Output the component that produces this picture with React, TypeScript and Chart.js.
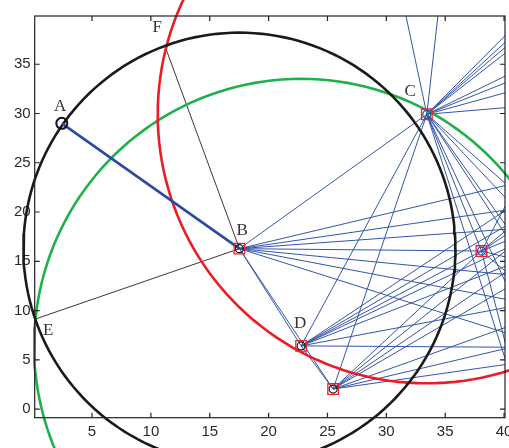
import React, { useEffect, useRef } from "react";
import { Chart, registerables } from "chart.js";

Chart.register(...registerables);

// Axis ranges and ticks
const xRange = [0.13, 40.08];
const yRange = [-0.88, 39.9];
const xTicks = [5, 10, 15, 20, 25, 30, 35, 40];
const yTicks = [0, 5, 10, 15, 20, 25, 30, 35];

// Network nodes (data coordinates); nodes beyond the axes are off-chart ends of rays
const nodeNames = [
  "A", "B", "C", "D", "G", "H", "E", "F",
  "U1", "U2", "U3", "U4", "U5", "U6", "U7", "U8", "T1", "T2",
  "F1", "F2", "F3", "F4", "F5", "F6", "F7", "F8", "F9", "F10", "F11", "F13",
];
const nodeX = [
  2.43, 17.52, 33.44, 22.76, 25.48, 38.08, 0.1, 11.27,
  48, 48, 48, 48, 48, 48, 48, 48, 30.5, 35.0,
  50, 50, 50, 50, 50, 50, 42, 44, 46, 50, 50, 45,
];
const nodeY = [
  29.0, 16.28, 29.92, 6.41, 2.03, 16.04, 9.1, 36.6,
  47.4, 45.9, 44.8, 43.5, 38.4, 36.9, 34.7, 31.4, 46.5, 46.5,
  25.5, 21.9, 19.1, 12.5, 8.9, 4.0, -2, 3, 7, 28, 6.2, 10.5,
];

// Thin blue edges
const blueEdges: [string, string][] = [
  ["B", "C"], ["B", "D"], ["B", "G"], ["B", "H"],
  ["B", "F1"], ["B", "F2"], ["B", "F3"], ["B", "F4"], ["B", "F5"], ["B", "F6"],
  ["C", "D"], ["C", "G"], ["C", "H"],
  ["C", "U1"], ["C", "U2"], ["C", "U3"], ["C", "U4"], ["C", "U5"], ["C", "U6"], ["C", "U7"], ["C", "U8"],
  ["C", "T1"], ["C", "T2"], ["C", "F7"], ["C", "F8"], ["C", "F9"], ["C", "F4"], ["C", "F5"], ["C", "F13"],
  ["D", "G"], ["D", "H"], ["D", "F11"], ["D", "F1"], ["D", "F2"], ["D", "F3"], ["D", "F10"], ["D", "F4"],
  ["G", "H"], ["G", "F2"], ["G", "F3"], ["G", "F4"], ["G", "F5"], ["G", "F11"], ["G", "F1"],
  ["H", "F10"], ["H", "F1"], ["H", "F2"], ["H", "F4"], ["H", "F6"], ["H", "U5"], ["H", "F7"],
];
// Thin black edges and thick blue edge
const blackEdges: [string, string][] = [["B", "F"], ["B", "E"]];
const thickEdges: [string, string][] = [["A", "B"]];

// Circles: centre and radii (data units on x and y)
const circleCx = [17.52, 33.44, 22.76];
const circleCy = [16.28, 29.92, 6.41];
const circleRx = [18.35, 22.86, 22.68];
const circleRy = [21.93, 27.31, 27.11];
const circleColors = ["#1a1a1a", "#ec1c24", "#1fb04b"];

// Markers
const squareNodes = ["B", "C", "D", "G", "H"];
const ringNodes = ["B", "D", "G"];
const blueRingNodes = ["C", "H"];

// Text labels
const labelText = ["A", "B", "C", "D", "E", "F"];
const labelX = [2.29, 17.75, 32.03, 22.68, 1.27, 10.53];
const labelY = [30.66, 18.17, 32.24, 8.73, 8.02, 38.68];

const pt = (name: string) => {
  const i = nodeNames.indexOf(name);
  return { x: nodeX[i], y: nodeY[i] };
};

const edgeData = (edges: [string, string][]) => {
  const out: { x: number; y: number }[] = [];
  edges.forEach(([a, b]) => {
    out.push(pt(a), pt(b), { x: NaN, y: NaN });
  });
  return out;
};

const circleData = (k: number) => {
  const out: { x: number; y: number }[] = [];
  for (let d = 0; d <= 360; d += 2) {
    const t = (d * Math.PI) / 180;
    out.push({ x: circleCx[k] + circleRx[k] * Math.cos(t), y: circleCy[k] + circleRy[k] * Math.sin(t) });
  }
  return out;
};

const overlay = {
  id: "overlay",
  afterDatasetsDraw(chart: any) {
    const { ctx, chartArea: a, scales } = chart;
    const xs = scales.x;
    const ys = scales.y;
    ctx.save();
    ctx.strokeStyle = "#222";
    ctx.lineWidth = 1.2;
    ctx.strokeRect(a.left, a.top, a.right - a.left, a.bottom - a.top);
    ctx.beginPath();
    const tl = 5;
    xTicks.forEach((v) => {
      const px = xs.getPixelForValue(v);
      ctx.moveTo(px, a.bottom);
      ctx.lineTo(px, a.bottom - tl);
      ctx.moveTo(px, a.top);
      ctx.lineTo(px, a.top + tl);
    });
    yTicks.forEach((v) => {
      const py = ys.getPixelForValue(v);
      ctx.moveTo(a.left, py);
      ctx.lineTo(a.left + tl, py);
      ctx.moveTo(a.right, py);
      ctx.lineTo(a.right - tl, py);
    });
    ctx.stroke();
    ctx.font = '17px "Liberation Serif"';
    ctx.fillStyle = "#333";
    ctx.textAlign = "center";
    ctx.textBaseline = "middle";
    labelText.forEach((t, i) => {
      ctx.fillText(t, xs.getPixelForValue(labelX[i]), ys.getPixelForValue(labelY[i]));
    });
    ctx.restore();
  },
};

export default function App() {
  const ref = useRef<HTMLCanvasElement | null>(null);
  useEffect(() => {
    if (!ref.current) return;
    const datasets: any[] = [];
    datasets.push({
      data: squareNodes.map(pt),
      showLine: false,
      pointStyle: "rect",
      pointRadius: 7.5,
      pointBorderColor: "#e8242b",
      pointBorderWidth: 1.3,
      pointBackgroundColor: "rgba(0,0,0,0)",
      order: 0,
    });
    datasets.push({
      data: ringNodes.map(pt),
      showLine: false,
      pointStyle: "circle",
      pointRadius: 4,
      pointBorderColor: "#111",
      pointBorderWidth: 1.2,
      pointBackgroundColor: "rgba(0,0,0,0)",
      order: 1,
    });
    datasets.push({
      data: blueRingNodes.map(pt),
      showLine: false,
      pointStyle: "circle",
      pointRadius: 4,
      pointBorderColor: "#2a4b9b",
      pointBorderWidth: 1.2,
      pointBackgroundColor: "rgba(0,0,0,0)",
      order: 2,
    });
    datasets.push({
      data: [pt("A")],
      showLine: false,
      pointStyle: "circle",
      pointRadius: 5.5,
      pointBorderColor: "#111",
      pointBorderWidth: 2,
      pointBackgroundColor: "rgba(0,0,0,0)",
      order: 3,
    });
    datasets.push({
      data: edgeData(thickEdges),
      showLine: true,
      borderColor: "#2a4b9b",
      borderWidth: 2.6,
      pointRadius: 0,
      spanGaps: false,
      order: 4,
    });
    circleCx.forEach((_, k) => {
      datasets.push({
        data: circleData(k),
        showLine: true,
        borderColor: circleColors[k],
        borderWidth: 2.6,
        pointRadius: 0,
        clip: false,
        order: 5 + k,
      });
    });
    datasets.push({
      data: edgeData(blackEdges),
      showLine: true,
      borderColor: "#222",
      borderWidth: 0.9,
      pointRadius: 0,
      spanGaps: false,
      order: 10,
    });
    datasets.push({
      data: edgeData(blueEdges),
      showLine: true,
      borderColor: "#3456a8",
      borderWidth: 1,
      pointRadius: 0,
      spanGaps: false,
      order: 11,
    });

    const chart = new Chart(ref.current, {
      type: "scatter",
      data: { datasets },
      options: {
        animation: false,
        responsive: false,
        events: [],
        layout: { autoPadding: false, padding: { top: 16, right: 4, left: 0, bottom: 0 } },
        plugins: { legend: { display: false }, tooltip: { enabled: false } },
        scales: {
          x: {
            type: "linear",
            min: xRange[0],
            max: xRange[1],
            grid: { display: false, drawTicks: false },
            border: { display: false },
            ticks: {
              font: { family: "Liberation Sans", size: 15 },
              color: "#2a2a2a",
              padding: 5,
              maxRotation: 0,
              autoSkip: false,
            },
            afterBuildTicks: (s: any) => {
              s.ticks = xTicks.map((v) => ({ value: v }));
            },
            afterFit: (s: any) => {
              s.height = 448 - 417.7;
              s.paddingLeft = 0;
              s.paddingRight = 0;
            },
          },
          y: {
            type: "linear",
            min: yRange[0],
            max: yRange[1],
            grid: { display: false, drawTicks: false },
            border: { display: false },
            ticks: {
              font: { family: "Liberation Sans", size: 15 },
              color: "#2a2a2a",
              padding: 4,
              autoSkip: false,
            },
            afterBuildTicks: (s: any) => {
              s.ticks = yTicks.map((v) => ({ value: v }));
            },
            afterFit: (s: any) => {
              s.width = 34.7;
              s.paddingTop = 0;
              s.paddingBottom = 0;
            },
          },
        },
      },
      plugins: [overlay],
    } as any);
    return () => chart.destroy();
  }, []);

  return (
    <div style={{ position: "fixed", left: 0, top: 0, width: 509, height: 448, background: "#fff" }}>
      <canvas ref={ref} width={509} height={448} style={{ width: 509, height: 448, display: "block" }} />
    </div>
  );
}
